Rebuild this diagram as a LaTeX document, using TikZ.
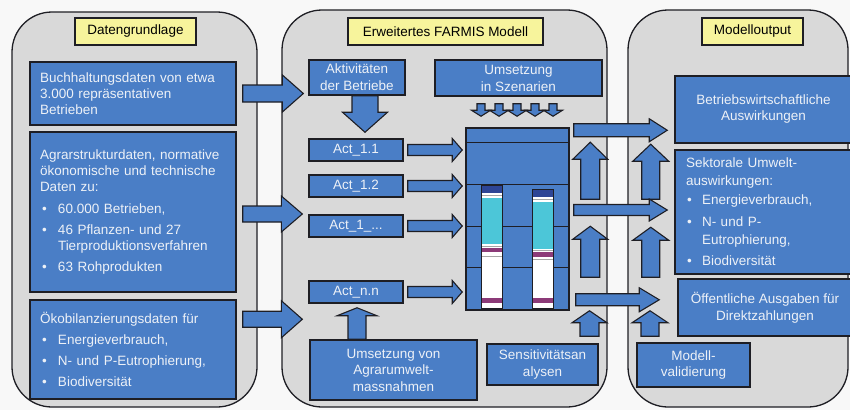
\documentclass[tikz,border=0pt]{standalone}
\usepackage{fontspec}
\setmainfont{Liberation Sans}
\usetikzlibrary{calc}
\definecolor{boxblue}{HTML}{4A7EC6}
\definecolor{outl}{HTML}{1E1E24}
\definecolor{panelgrey}{HTML}{D9D9D9}
\definecolor{titleyel}{HTML}{F7F49C}
\definecolor{txtw}{HTML}{EDF1F7}
\definecolor{navybar}{HTML}{2E4595}
\definecolor{cyanbar}{HTML}{4CC6D8}
\definecolor{purpbar}{HTML}{8C3A78}
\definecolor{bggrey}{HTML}{F8F8F8}
\newcommand\bul{\makebox[18pt][l]{\hspace{2pt}•}}
\newcommand\bulr{\makebox[16pt][l]{\hspace{1pt}•}}
% block arrows: start, tip, shaft half width, head half width, head length
\newcommand\blkR[5]{\draw[barrow] let \p1=#1, \p2=#2 in
  (\x1,\y1+#3) -- (\x2-#5,\y1+#3) -- (\x2-#5,\y1+#4) -- (\x2,\y1) --
  (\x2-#5,\y1-#4) -- (\x2-#5,\y1-#3) -- (\x1,\y1-#3) -- cycle;}
\newcommand\blkU[5]{\draw[barrow] let \p1=#1, \p2=#2 in
  (\x1-#3,\y1) -- (\x1-#3,\y2-#5) -- (\x1-#4,\y2-#5) -- (\x1,\y2) --
  (\x1+#4,\y2-#5) -- (\x1+#3,\y2-#5) -- (\x1+#3,\y1) -- cycle;}
\newcommand\blkD[5]{\draw[barrow] let \p1=#1, \p2=#2 in
  (\x1-#3,\y1) -- (\x1-#3,\y2+#5) -- (\x1-#4,\y2+#5) -- (\x1,\y2) --
  (\x1+#4,\y2+#5) -- (\x1+#3,\y2+#5) -- (\x1+#3,\y1) -- cycle;}
\begin{document}
\begin{tikzpicture}[x=1pt,y=-1pt,
  panel/.style={draw=outl, line width=1.3pt, fill=panelgrey, rounded corners=40pt, inner sep=0pt},
  bbox/.style={draw=outl, line width=1.5pt, fill=boxblue, text=txtw, inner sep=0pt,
    font=\fontsize{13.5}{16}\selectfont},
  ttl/.style={draw=outl, line width=1.2pt, fill=titleyel, text=black, inner sep=0pt,
    font=\fontsize{13.5}{16}\selectfont},
  barrow/.style={draw=outl, line width=1.1pt, fill=boxblue, line join=miter},
  chline/.style={draw=outl, line width=0.9pt},
  barout/.style={draw=outl, line width=0.8pt},
  greyline/.style={draw=gray!70, line width=0.7pt}]
\useasboundingbox (0,0) rectangle (850,410);
\clip (0,0) rectangle (850,410);
\fill[bggrey] (0,0) rectangle (850,410);

% panels
\node[panel, minimum width=245pt, minimum height=395pt] (p1) at (134.5,209.5) {};
\node[panel, minimum width=325pt, minimum height=397pt] (p2) at (444.5,208.5) {};
\node[panel, minimum width=220pt, minimum height=397pt] (p3) at (738,208.5) {};

% titles
\node[ttl, minimum width=121pt, minimum height=27pt] (t1) at (135.5,31.5) {Datengrundlage};
\node[ttl, minimum width=195pt, minimum height=27pt] (t2) at (445.5,31.5) {Erweitertes FARMIS Modell};
\node[ttl, minimum width=101pt, minimum height=27pt] (t3) at (752.5,31.5) {Modelloutput};

% left column
\node[bbox, minimum width=206pt, minimum height=63pt, text width=186pt, align=left] (b1) at (133,93.5)
  {Buchhaltungsdaten von etwa\\3.000 repräsentativen\\Betrieben};
\node[bbox, minimum width=206pt, minimum height=160pt, text width=186pt, align=left] (b2) at (133,212)
  {Agrarstrukturdaten, normative\\ökonomische und technische\\Daten zu:\\[6pt]
   \bul 60.000 Betrieben,\\[5pt]
   \bul 46 Pflanzen- und 27\\\hspace*{18pt}Tierproduktionsverfahren\\[5pt]
   \bul 63 Rohprodukten};
\node[bbox, minimum width=206pt, minimum height=99pt, text width=186pt, align=left] (b3) at (133,349.5)
  {Ökobilanzierungsdaten für\\[5pt]
   \bul Energieverbrauch,\\[5pt]
   \bul N- und P-Eutrophierung,\\[5pt]
   \bul Biodiversität};

% middle column
\node[bbox, minimum width=96pt, minimum height=35pt, align=center, font=\fontsize{13.5}{17}\selectfont] (akt) at (357,77.5)
  {Aktivitäten\\der Betriebe};
\node[bbox, minimum width=167pt, minimum height=36pt, align=center, font=\fontsize{13.5}{17}\selectfont] (szen) at (518.5,78)
  {Umsetzung\\in Szenarien};
\node[bbox, minimum width=94pt, minimum height=22pt] (act11) at (356,150) {Act\_1.1};
\node[bbox, minimum width=94pt, minimum height=22pt] (act12) at (356,186) {Act\_1.2};
\node[bbox, minimum width=94pt, minimum height=22pt] (act13) at (356,226) {Act\_1\_...};
\node[bbox, minimum width=94pt, minimum height=22pt] (actnn) at (356,292) {Act\_n.n};
\node[bbox, minimum width=103pt, minimum height=182pt] (chart) at (517.5,219) {};
\node[bbox, minimum width=167pt, minimum height=60pt, align=center, font=\fontsize{13.5}{16.5}\selectfont] (umw) at (393.5,370)
  {Umsetzung von\\Agrarumwelt-\\massnahmen};
\node[bbox, minimum width=111pt, minimum height=41pt, align=center, font=\fontsize{13.5}{17}\selectfont] (sens) at (542.5,364.5)
  {Sensitivitätsan\\alysen};

% right column
\node[bbox, minimum width=177pt, minimum height=67pt, align=center] (betr) at (763.5,109.5)
  {Betriebswirtschaftliche\\Auswirkungen};
\node[bbox, minimum width=177pt, minimum height=124pt, text width=155pt, align=left, font=\fontsize{13.5}{18}\selectfont] (sekt) at (763.5,212)
  {Sektorale Umwelt-\\auswirkungen:\\[1pt]
   \bulr Energieverbrauch,\\[4pt]
   \bulr N- und P-\\\hspace*{16pt}Eutrophierung,\\[3pt]
   \bulr Biodiversität};
\node[bbox, minimum width=174pt, minimum height=57pt, align=center, font=\fontsize{13.5}{17}\selectfont] (oeff) at (765,307.5)
  {Öffentliche Ausgaben für\\Direktzahlungen};
\node[bbox, minimum width=113pt, minimum height=44pt, align=center] (modv) at (693.5,365)
  {Modell-\\validierung};

% chart interior
\foreach \dy in {15,57,99,140}{
  \draw[chline] ($(chart.north west)+(0,\dy)$) -- ($(chart.north east)+(0,\dy)$);}
\begin{scope}[shift={(chart.north west)}]
  % bar 1
  \fill[white] (16,58) rectangle (37,181);
  \fill[navybar] (16,58) rectangle (37,66);
  \fill[cyanbar] (16,71) rectangle (37,117);
  \fill[purpbar] (16,121) rectangle (37,125);
  \fill[purpbar] (16,171) rectangle (37,176);
  \draw[greyline] (16,68.5) -- (37,68.5);
  \draw[greyline] (16,119) -- (37,119);
  \draw[greyline] (16,129.5) -- (37,129.5);
  \draw[barout] (16,58) rectangle (37,181);
  % bar 2
  \fill[white] (67,62) rectangle (88,181);
  \fill[navybar] (67,62) rectangle (88,70);
  \fill[cyanbar] (67,75) rectangle (88,122);
  \fill[purpbar] (67,125) rectangle (88,130);
  \fill[purpbar] (67,171) rectangle (88,176);
  \draw[greyline] (67,72.5) -- (88,72.5);
  \draw[greyline] (67,123.5) -- (88,123.5);
  \draw[greyline] (67,132) -- (88,132);
  \draw[barout] (67,62) rectangle (88,181);
\end{scope}

% arrows left -> middle
\blkR{($(b1.east)+(6,0)$)}{($(p2.west)+(22,0)$)}{8.5pt}{18.5pt}{21pt}
\blkR{($(b2.east)+(6,2)$)}{($(p2.west)+(21,0)$)}{8pt}{18pt}{21pt}
\blkR{($(b3.north east)+(6,20)$)}{($(p2.west)+(21,0)$)}{8pt}{18.5pt}{21pt}

% middle arrows
\blkD{($(akt.south)+(8,0)$)}{($(act11.north)+(9,-6)$)}{13pt}{22.5pt}{20pt}
\foreach \dx in {-37.5,-19.5,-1.5,16.5,34.5}{
  \blkD{($(szen.south)+(\dx,7)$)}{($(chart.north)+(0,-11)$)}{4pt}{9.5pt}{6pt}}
\foreach \a in {act11,act12,act13,actnn}{
  \blkR{($(\a.east)+(4,0)$)}{($(chart.west)+(-3,0)$)}{5.5pt}{11.5pt}{10pt}}
\blkU{($(umw.north)+(-36.5,0)$)}{($(actnn.south)+(0,4)$)}{9pt}{20pt}{8pt}

% up arrows towards output
\blkU{($(chart.north east)+(20.5,72)$)}{($(chart.north east)+(20.5,15)$)}{9.5pt}{17.5pt}{17pt}
\blkU{($(chart.north east)+(20.5,150)$)}{($(chart.north east)+(20.5,99)$)}{9.5pt}{17.5pt}{13pt}
\blkU{($(sens.north)+(47,-7)$)}{($(chart.south east)+(20.5,0)$)}{9.5pt}{17.5pt}{12pt}
\blkU{($(chart.north east)+(81,72)$)}{($(chart.north east)+(81,17)$)}{9pt}{18pt}{17pt}
\blkU{($(chart.north east)+(81,150)$)}{($(chart.north east)+(81,100)$)}{9pt}{18pt}{13pt}
\blkU{($(modv.north)+(-43.5,-6)$)}{($(chart.south east)+(81,0)$)}{9pt}{18pt}{12pt}

% chart -> output
\blkR{($(chart.north east)+(4,3)$)}{($(betr.west)+(-7,0)$)}{6.5pt}{11.5pt}{18pt}
\blkR{($(chart.east)+(4,-9)$)}{($(sekt.west)+(-7,0)$)}{5.5pt}{11pt}{18pt}
\blkR{($(chart.south east)+(6,-11)$)}{($(oeff.west)+(-18,0)$)}{6pt}{12pt}{20pt}
\end{tikzpicture}
\end{document}
